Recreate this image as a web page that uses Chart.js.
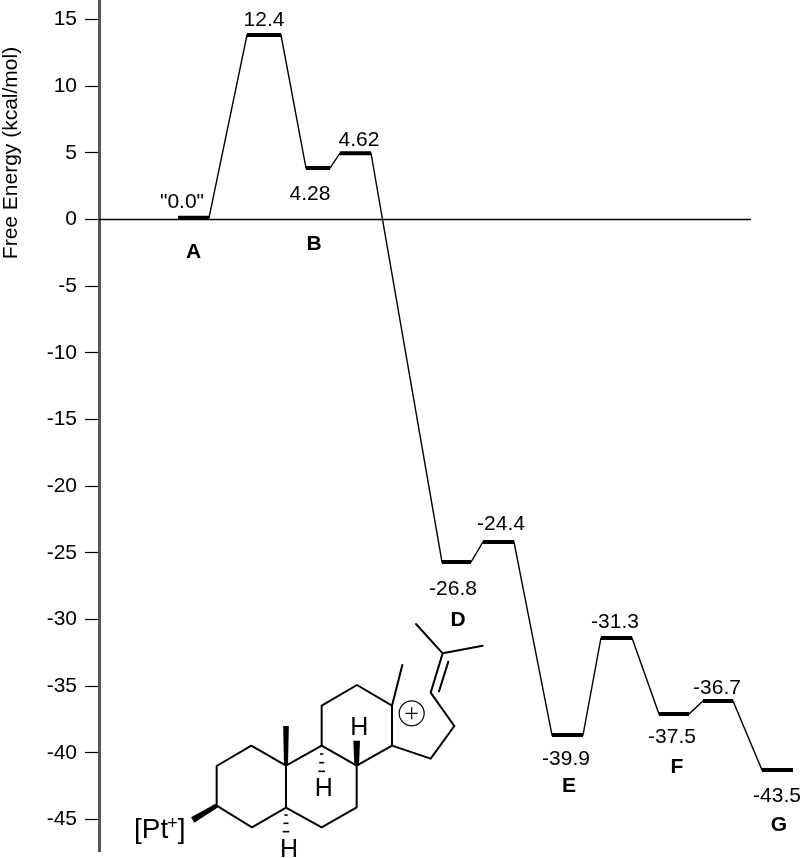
<!DOCTYPE html>
<html>
<head>
<meta charset="utf-8">
<style>html,body{margin:0;padding:0;background:#fff}canvas{display:block}</style>
<script src="https://cdn.jsdelivr.net/npm/chart.js@4"></script>
</head>
<body>
<canvas id="c" width="800" height="858"></canvas>
<script>
// Data
const tickValues = [15,10,5,0,-5,-10,-15,-20,-25,-30,-35,-40,-45];
const levelStart = [79,148,207,241,343,384,453,502,560,604,663];
const levelEnd   = [110,182,231,272,372,415,484,533,590,634,694];
const levelEnergy = [0.13,13.84,3.86,4.98,-25.69,-24.19,-38.67,-31.39,-37.10,-36.12,-41.30];
const valueLabels = ['"0.0"','12.4','4.28','4.62','-26.8','-24.4','-39.9','-31.3','-37.5','-36.7','-43.5'];
const stateLetters = ['A','B','D','E','F','G'];
const stateLevels = [0,2,4,6,8,10];
const baselineEnd = 652;
const xMin = 0, xMax = 701, yMin = -47.37, yMax = 16.467;
const axisTitle = 'Free Energy (kcal/mol)';

// Label placement (pixels from the centre of a level)
const valueOffsets = [[-11.5,-15.5],[0,-15],[-8,26.5],[3.5,-13],[-3.5,27.5],[2.5,-17.5],[-1.5,24.5],[-1.5,-15.5],[-2,23.5],[-1,-12.5],[-0.5,26.5]];
const letterOffsets = [[0,34],[-4,76.5],[1.5,58.5],[1.5,51.5],[3,53.5],[1.5,55.5]];
const FONT = '"Liberation Sans", Arial, sans-serif';

const connector = [], plateaus = [];
levelEnergy.forEach((e,i)=>{
  connector.push({x:levelStart[i],y:e},{x:levelEnd[i],y:e});
  plateaus.push({x:levelStart[i],y:e},{x:levelEnd[i],y:e},{x:levelEnd[i],y:null});
});

// The drawn structure, placed on the page (reference crop units: 3 per pixel)
const mol = (x,y)=>[120+x/3,600+y/3];
const bonds = [
 [[290,617],[290,498],[394,437],[498,497],[498,623],[396,682],[290,617]],
 [[498,497],[605,437],[710,497],[710,622],[605,682],[498,623]],
 [[605,437],[605,317],[711,255],[816,317],[816,437],[710,497]],
 [[816,437],[932,476],[1003,378],[932,278],[968,160],[888,72]],
 [[968,160],[1088,137]],
 [[957,274],[985,185]],
 [[816,317],[847,195]]
];
const wedges = [[[290,617],[218,660],19],[[498,497],[498,378],17],[[710,497],[710,422],20]];
const hashes = [[605,462,10],[605,488,15],[605,514,20],[498,645,10],[498,670,15],[498,695,20]];
const hLabels = [[718,384],[611,566],[507,749]];

const decor = {
  id:'decor',
  afterDatasetsDraw(chart){
    const {ctx,scales:{x,y}} = chart;
    ctx.save();
    ctx.fillStyle='#000';ctx.strokeStyle='#000';
    ctx.textAlign='center';ctx.textBaseline='middle';
    // axis title
    ctx.save();
    ctx.translate(11,153);ctx.rotate(-Math.PI/2);
    ctx.font='21px '+FONT;ctx.fillText(axisTitle,0,0);
    ctx.restore();
    // level labels
    const cx=i=>x.getPixelForValue((levelStart[i]+levelEnd[i])/2), cy=i=>y.getPixelForValue(levelEnergy[i]);
    ctx.font='21px '+FONT;
    valueLabels.forEach((t,i)=>ctx.fillText(t,cx(i)+valueOffsets[i][0],cy(i)+valueOffsets[i][1]));
    ctx.font='bold 21px '+FONT;
    stateLetters.forEach((t,k)=>{const i=stateLevels[k];ctx.fillText(t,cx(i)+letterOffsets[k][0],cy(i)+letterOffsets[k][1]);});
    // structure
    ctx.lineWidth=2;ctx.lineJoin='round';ctx.lineCap='round';
    bonds.forEach(b=>{ctx.beginPath();b.forEach((p,i)=>{const q=mol(p[0],p[1]);i?ctx.lineTo(q[0],q[1]):ctx.moveTo(q[0],q[1]);});ctx.stroke();});
    wedges.forEach(([a,b,w])=>{
      const A=mol(a[0],a[1]),B=mol(b[0],b[1]);
      const dx=B[0]-A[0],dy=B[1]-A[1],L=Math.hypot(dx,dy),nx=-dy/L*w/6,ny=dx/L*w/6;
      ctx.beginPath();ctx.moveTo(A[0]-nx*.7,A[1]-ny*.7);ctx.lineTo(B[0]-nx,B[1]-ny);ctx.lineTo(B[0]+nx,B[1]+ny);ctx.lineTo(A[0]+nx*.7,A[1]+ny*.7);ctx.closePath();ctx.fill();
    });
    ctx.lineCap='butt';ctx.lineWidth=1.6;
    hashes.forEach(([hx,hy,w])=>{const p=mol(hx,hy);ctx.beginPath();ctx.moveTo(p[0]-w/6,p[1]);ctx.lineTo(p[0]+w/6,p[1]);ctx.stroke();});
    const c=mol(875,340);
    ctx.lineWidth=1.2;ctx.beginPath();ctx.arc(c[0],c[1],12.5,0,Math.PI*2);ctx.stroke();
    ctx.beginPath();ctx.moveTo(c[0]-6,c[1]);ctx.lineTo(c[0]+6,c[1]);ctx.moveTo(c[0],c[1]-6);ctx.lineTo(c[0],c[1]+6);ctx.stroke();
    ctx.font='25px '+FONT;
    hLabels.forEach(p=>{const q=mol(p[0],p[1]);ctx.fillText('H',q[0],q[1]);});
    ctx.textAlign='left';ctx.textBaseline='alphabetic';
    ctx.font='28px '+FONT;ctx.fillText('[Pt',134,838);
    const w=ctx.measureText('[Pt').width;
    ctx.font='18px '+FONT;ctx.fillText('+',134+w-1,829);
    const w2=ctx.measureText('+').width;
    ctx.font='28px '+FONT;ctx.fillText(']',134+w+w2-1,838);
    ctx.restore();
  }
};

new Chart(document.getElementById('c'),{
  type:'scatter',
  data:{datasets:[
    {data:[{x:xMin,y:0},{x:baselineEnd,y:0}],showLine:true,borderColor:'#000',borderWidth:1.3,pointRadius:0},
    {data:connector,showLine:true,borderColor:'#000',borderWidth:1.4,pointRadius:0},
    {data:plateaus,showLine:true,spanGaps:false,borderColor:'#000',borderWidth:4,pointRadius:0,borderCapStyle:'butt'}
  ]},
  options:{
    responsive:false,animation:false,
    layout:{autoPadding:false,padding:{top:0,bottom:7,left:0,right:0}},
    plugins:{legend:{display:false},tooltip:{enabled:false},title:{display:false}},
    scales:{
      x:{type:'linear',display:false,min:xMin,max:xMax},
      y:{
        type:'linear',min:yMin,max:yMax,
        afterFit(s){s.width=99;s.paddingTop=0;s.paddingBottom=0;s.paddingLeft=0;s.paddingRight=0;},
        afterBuildTicks(s){s.ticks=tickValues.map(v=>({value:v}));},
        border:{display:true,color:'#555',width:3},
        grid:{display:true,drawOnChartArea:false,drawTicks:true,tickLength:14,tickColor:'#000',tickWidth:1.2},
        ticks:{color:'#000',padding:8,font:{family:FONT,size:21},autoSkip:false,maxRotation:0,callback:v=>String(v)}
      }
    }
  },
  plugins:[decor]
});
</script>
</body>
</html>
